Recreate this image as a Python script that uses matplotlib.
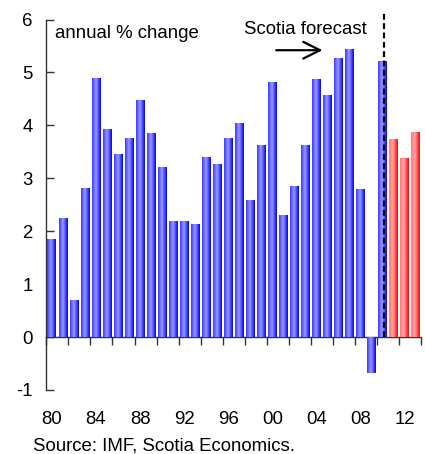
import numpy as np
import matplotlib.pyplot as plt
from matplotlib.colors import LinearSegmentedColormap

plt.rcParams['font.family'] = ['Liberation Sans', 'DejaVu Sans']
plt.rcParams['font.size'] = 13.4
plt.rcParams['axes.unicode_minus'] = False

# Real GDP growth, annual % change
years = np.arange(1980, 2014)
growth = [1.85, 2.24, 0.69, 2.81, 4.89, 3.92, 3.45, 3.75, 4.47, 3.85,
          3.21, 2.19, 2.18, 2.13, 3.40, 3.26, 3.75, 4.04, 2.57, 3.62,
          4.81, 2.30, 2.85, 3.62, 4.87, 4.57, 5.26, 5.43, 2.79, -0.67,
          5.21, 3.74, 3.38, 3.87]
first_forecast = 2011
tick_years = [1980, 1984, 1988, 1992, 1996, 2000, 2004, 2008, 2012]
tick_labels = ['80', '84', '88', '92', '96', '00', '04', '08', '12']

# shaded fills across each bar (left edge, middle, right edge)
blue_fill = LinearSegmentedColormap.from_list(
    'blue_fill', [(0.0, '#3a3aff'), (0.45, '#9a9aff'), (1.0, '#0000ff')])
red_fill = LinearSegmentedColormap.from_list(
    'red_fill', [(0.0, '#ff7a7a'), (0.45, '#ffa0a0'), (1.0, '#ff0000')])

fig = plt.figure(figsize=(4.25, 4.54), dpi=100)
ax = fig.add_axes([0.109, 0.141, 0.882, 0.816])

ylo, yhi = -1, 6
xlo, xhi = years[0] - 0.5, years[-1] + 0.5

bars = ax.bar(years, growth, width=0.79, color='none', edgecolor='none')
ramp = np.linspace(0, 1, 64)
for yr, patch in zip(years, bars):
    cmap = red_fill if yr >= first_forecast else blue_fill
    x0, y0 = patch.get_x(), patch.get_y()
    w, h = patch.get_width(), patch.get_height()
    ax.imshow(cmap(ramp)[np.newaxis, :, :3], extent=[x0, x0 + w, y0, y0 + h],
              aspect='auto', interpolation='bilinear', zorder=2)

ax.set_xlim(xlo, xhi)
ax.set_ylim(ylo, yhi)

for side in ['top', 'right', 'bottom']:
    ax.spines[side].set_visible(False)
ax.spines['left'].set_color('#333333')
ax.spines['left'].set_linewidth(1.0)

ax.set_yticks(np.arange(ylo, yhi + 1))
ax.tick_params(axis='y', direction='in', length=6, width=1.0,
               color='#333333', pad=10)
ax.set_xticks(tick_years, tick_labels)
ax.tick_params(axis='x', length=0, pad=15)

# zero line with tick marks between every second pair of years
zero_axis = ax.secondary_xaxis((0 - ylo) / (yhi - ylo))
zero_axis.set_xticks(np.arange(xlo, xhi + 0.1, 2))
zero_axis.tick_params(axis='x', direction='out', length=6, width=1.0,
                      color='#333333', labelbottom=False)
zero_axis.spines['bottom'].set_color('#333333')
zero_axis.spines['bottom'].set_linewidth(1.0)

# forecast divider
ax.vlines(2010.1, 0, 6.12, colors='black', linewidth=1.6,
          linestyles=(0, (2.6, 1.6)), clip_on=False, zorder=4)

ax.text(0.023, 0.963, 'annual % change', transform=ax.transAxes,
        ha='left', va='center')
ax.text(2003.0, 5.82, 'Scotia forecast', ha='center', va='center')
ax.annotate('', xy=(2004.8, 5.42), xytext=(2000.1, 5.42),
            arrowprops=dict(arrowstyle='->,head_length=0.9,head_width=0.45',
                            lw=1.6, color='black'))

fig.text(0.078, 0.007, 'Source: IMF, Scotia Economics.', ha='left',
         va='baseline')

fig.savefig('out.png', dpi=100)
